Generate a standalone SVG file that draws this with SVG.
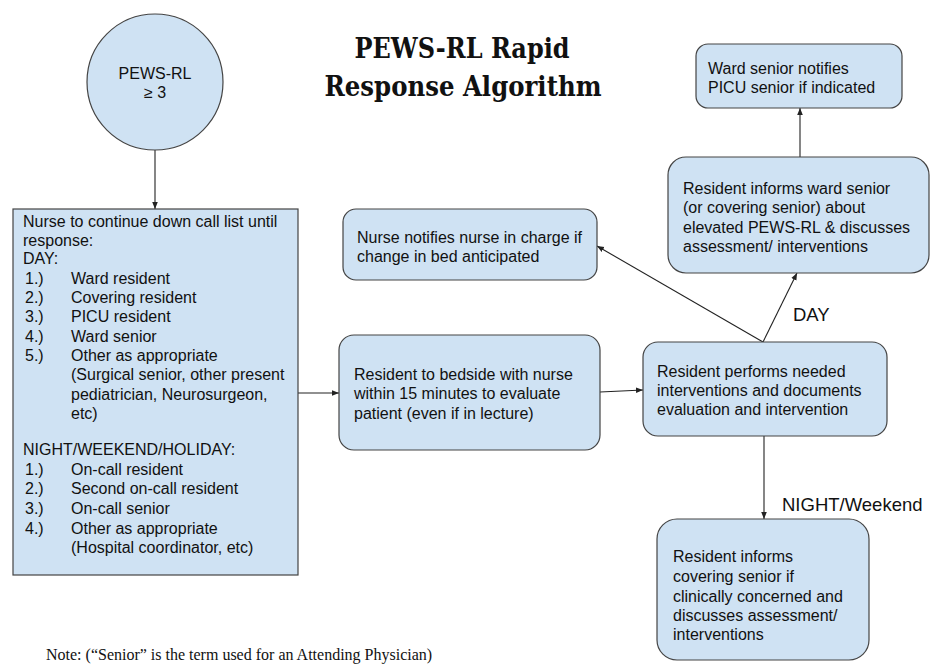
<svg xmlns="http://www.w3.org/2000/svg" width="935" height="668" viewBox="0 0 935 668">
<style>
.node{fill:#cfe2f3;stroke:#444;stroke-width:1.2}
.t{font-family:"Liberation Sans",Arial,sans-serif;font-size:16px;fill:#111}
.lbl{font-family:"Liberation Sans",Arial,sans-serif;font-size:18.5px;fill:#111}
.title{font-family:"DejaVu Serif","Liberation Serif",serif;font-weight:bold;font-size:27px;fill:#111}
.note{font-family:"Liberation Serif","Times New Roman",serif;font-size:16px;fill:#111}
.c{stroke:#222;stroke-width:1.1;fill:none;marker-end:url(#ah)}
</style>
<defs>
<marker id="ah" viewBox="0 0 10 10" refX="10" refY="5" markerWidth="7" markerHeight="7" markerUnits="userSpaceOnUse" orient="auto">
<path d="M0,1 L10,5 L0,9 z" fill="#222"/>
</marker>
</defs>
<rect width="935" height="668" fill="#fff"/>
<g id="title">
<text class="title" x="462" y="58" text-anchor="middle" textLength="215" lengthAdjust="spacingAndGlyphs">PEWS-RL Rapid</text>
<text class="title" x="463" y="96" text-anchor="middle" textLength="277" lengthAdjust="spacingAndGlyphs">Response Algorithm</text>
</g>
<g id="connectors">
<line class="c" x1="155" y1="150" x2="155" y2="209"/>
<line class="c" x1="298" y1="393" x2="339" y2="393"/>
<line class="c" x1="600" y1="392" x2="643" y2="390"/>
<line class="c" x1="763" y1="342" x2="597" y2="246"/>
<line class="c" x1="763" y1="342" x2="797" y2="273"/>
<line class="c" x1="800" y1="157" x2="800" y2="108"/>
<line class="c" x1="764" y1="436" x2="764" y2="519"/>
</g>
<g id="start">
<circle class="node" cx="155" cy="82" r="68"/>
<text class="t" x="155" y="79" text-anchor="middle">PEWS-RL</text>
<text class="t" x="155" y="98" text-anchor="middle">≥ 3</text>
</g>
<g id="call-list">
<rect class="node" x="13" y="209" width="285" height="366"/>
<text class="t" x="23" y="227">Nurse to continue down call list until</text>
<text class="t" x="23" y="246">response:</text>
<text class="t" x="23" y="264">DAY:</text>
<text class="t" x="25" y="284">1.)</text><text class="t" x="71" y="284">Ward resident</text>
<text class="t" x="25" y="303">2.)</text><text class="t" x="71" y="303">Covering resident</text>
<text class="t" x="25" y="322">3.)</text><text class="t" x="71" y="322">PICU resident</text>
<text class="t" x="25" y="342">4.)</text><text class="t" x="71" y="342">Ward senior</text>
<text class="t" x="25" y="361">5.)</text><text class="t" x="71" y="361">Other as appropriate</text>
<text class="t" x="71" y="380">(Surgical senior, other present</text>
<text class="t" x="71" y="400">pediatrician, Neurosurgeon,</text>
<text class="t" x="71" y="419">etc)</text>
<text class="t" x="23" y="455">NIGHT/WEEKEND/HOLIDAY:</text>
<text class="t" x="25" y="475">1.)</text><text class="t" x="71" y="475">On-call resident</text>
<text class="t" x="25" y="494">2.)</text><text class="t" x="71" y="494">Second on-call resident</text>
<text class="t" x="25" y="514">3.)</text><text class="t" x="71" y="514">On-call senior</text>
<text class="t" x="25" y="534">4.)</text><text class="t" x="71" y="534">Other as appropriate</text>
<text class="t" x="71" y="553">(Hospital coordinator, etc)</text>
</g>
<g id="nurse-notifies">
<rect class="node" x="343" y="209" width="254" height="71" rx="13"/>
<text class="t" x="357" y="243">Nurse notifies nurse in charge if</text>
<text class="t" x="357" y="262">change in bed anticipated</text>
</g>
<g id="bedside">
<rect class="node" x="339" y="335" width="261" height="115" rx="15"/>
<text class="t" x="354" y="380">Resident to bedside with nurse</text>
<text class="t" x="354" y="399">within 15 minutes to evaluate</text>
<text class="t" x="354" y="419">patient (even if in lecture)</text>
</g>
<g id="performs">
<rect class="node" x="643" y="342" width="244" height="94" rx="15"/>
<text class="t" x="657" y="377">Resident performs needed</text>
<text class="t" x="657" y="396">interventions and documents</text>
<text class="t" x="657" y="415">evaluation and intervention</text>
</g>
<g id="informs-ward">
<rect class="node" x="668" y="157" width="261" height="116" rx="18"/>
<text class="t" x="683" y="194">Resident informs ward senior</text>
<text class="t" x="683" y="213">(or covering senior) about</text>
<text class="t" x="683" y="233">elevated PEWS-RL &amp; discusses</text>
<text class="t" x="683" y="252">assessment/ interventions</text>
</g>
<g id="ward-senior">
<rect class="node" x="696" y="44" width="206" height="64" rx="12"/>
<text class="t" x="708" y="74">Ward senior notifies</text>
<text class="t" x="708" y="93">PICU senior if indicated</text>
</g>
<g id="informs-covering">
<rect class="node" x="657" y="519" width="212" height="141" rx="20"/>
<text class="t" x="673" y="562">Resident informs</text>
<text class="t" x="673" y="582">covering senior if</text>
<text class="t" x="673" y="602">clinically concerned and</text>
<text class="t" x="673" y="621">discusses assessment/</text>
<text class="t" x="673" y="640">interventions</text>
</g>
<g id="labels">
<text class="lbl" x="793" y="321" font-size="18">DAY</text>
<text class="lbl" x="782" y="511">NIGHT/Weekend</text>
</g>
<text class="note" x="46" y="660">Note: (“Senior” is the term used for an Attending Physician)</text>
</svg>
